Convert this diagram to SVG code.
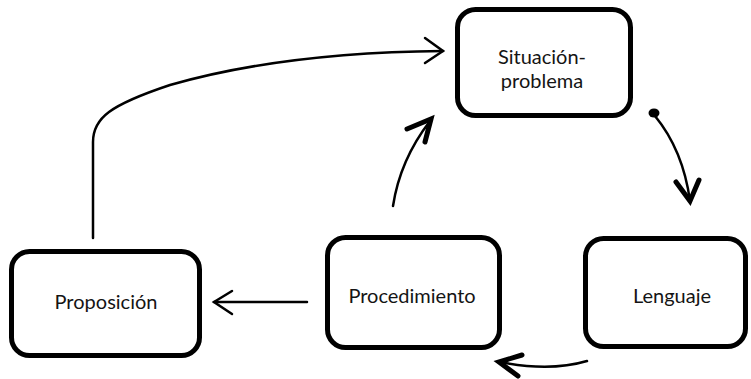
<svg xmlns="http://www.w3.org/2000/svg" width="751" height="379" viewBox="0 0 751 379">
  <style>
    .box { fill: #ffffff; stroke: #000000; stroke-width: 5; }
    .label { font-family: Lato, "Open Sans", sans-serif; font-size: 20px; fill: #141414; text-anchor: middle; }
    .line { fill: none; stroke: #000000; stroke-width: 2.5; stroke-linecap: round; }
    .head { fill: none; stroke: #000000; stroke-width: 2.5; stroke-linecap: round; stroke-linejoin: miter; }
    .head-bold { fill: none; stroke: #000000; stroke-width: 5; stroke-linecap: round; stroke-linejoin: miter; }
  </style>
  <rect width="751" height="379" fill="#ffffff"/>

  <g id="connectors">
    <!-- Proposición up and over to Situación-problema -->
    <path class="line" d="M93,238 V142 C93,118 110,105 170,85 C250,62 340,52 443,51"/>
    <polyline class="head" points="425,38 443,51 425,63"/>
    <!-- Procedimiento to Situación-problema -->
    <path class="line" d="M393,206 Q400,160 430,121"/>
    <polyline class="head-bold" points="407,129 431,119 425,142"/>
    <!-- Situación-problema to Lenguaje -->
    <ellipse cx="654" cy="113" rx="5.5" ry="4.5" fill="#000000"/>
    <path class="line" d="M655,116 Q683,150 690,201"/>
    <polyline class="head-bold" points="676,182 690,201 699,180"/>
    <!-- Lenguaje to Procedimiento -->
    <path class="line" d="M587,361 Q550,372 500,362"/>
    <polyline class="head-bold" points="522,355 499,362 518,376"/>
    <!-- Procedimiento to Proposición -->
    <line class="line" x1="307" y1="302" x2="214" y2="302"/>
    <polyline class="head" points="232,291 214,302 232,314"/>
  </g>

  <g id="situacion-problema">
    <rect class="box" x="457.5" y="9.5" width="173" height="106" rx="18"/>
    <text class="label" x="542" y="64">Situación-</text>
    <text class="label" x="542" y="88">problema</text>
  </g>

  <g id="proposicion">
    <rect class="box" x="11.5" y="251.5" width="188" height="104" rx="18"/>
    <text class="label" x="106" y="309">Proposición</text>
  </g>

  <g id="procedimiento">
    <rect class="box" x="327.5" y="237.5" width="172" height="110" rx="18"/>
    <text class="label" x="412" y="303">Procedimiento</text>
  </g>

  <g id="lenguaje">
    <rect class="box" x="585.5" y="238.5" width="160" height="108" rx="18"/>
    <text class="label" x="672" y="303">Lenguaje</text>
  </g>
</svg>
